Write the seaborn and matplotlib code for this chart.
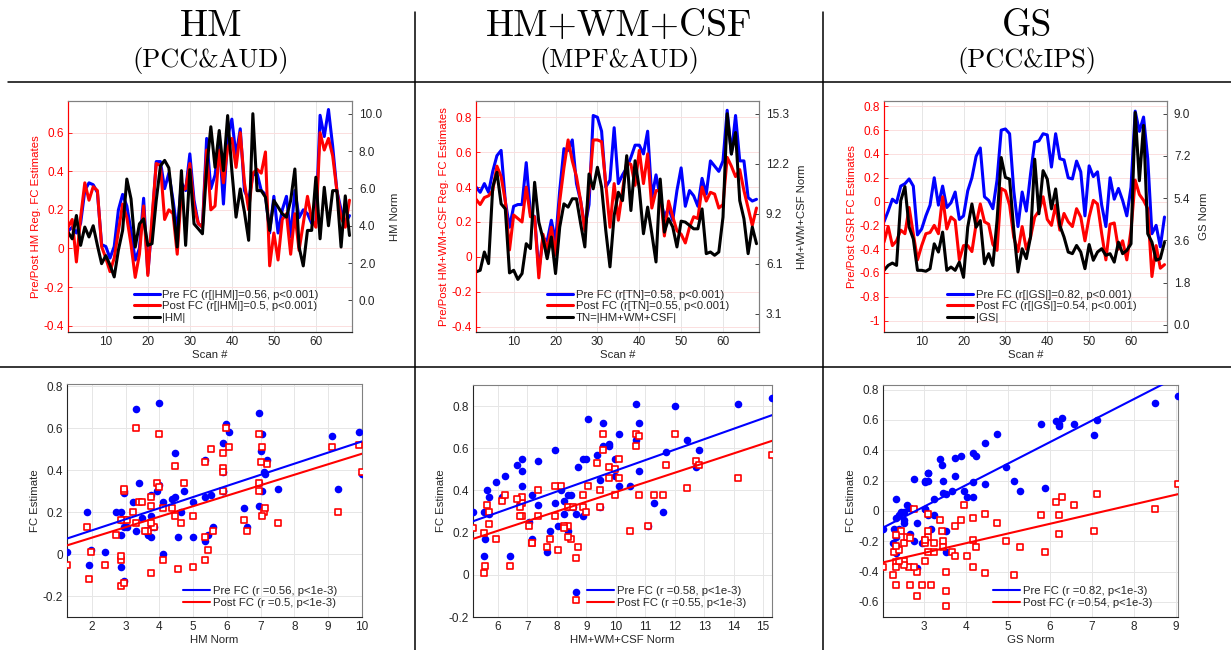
import numpy as np
import pandas as pd
import matplotlib
matplotlib.use("Agg")
import matplotlib.pyplot as plt
import seaborn as sns
from matplotlib.lines import Line2D
from matplotlib.ticker import FuncFormatter

# ---------------- data ----------------
scan = np.arange(1, 69)

hm_pre = [0.09, 0.11, 0.08, 0.13, 0.30, 0.34, 0.33, 0.29, 0.02, 0.01,
          -0.05, 0.01, 0.20, 0.28, 0.22, 0.09, -0.06, 0.00, 0.26, -0.13,
          0.13, 0.45, 0.45, 0.31, 0.39, 0.25, 0.09, 0.34, 0.30, 0.49,
          0.25, 0.13, 0.11, 0.57, 0.31, 0.38, 0.56, 0.23, 0.58, 0.67,
          0.48, 0.62, 0.30, 0.25, 0.38, 0.39, 0.30, 0.28, 0.08, 0.27,
          0.08, 0.20, 0.27, 0.06, 0.30, 0.16, 0.20, 0.18, 0.13, 0.13,
          0.69, 0.58, 0.72, 0.53, 0.30, 0.20, 0.13, 0.17]
hm_post = [0.11, 0.15, -0.07, 0.16, 0.34, 0.25, 0.32, 0.30, 0.01, -0.05,
           -0.12, -0.05, 0.09, 0.23, 0.16, 0.02, -0.15, -0.03, 0.22, -0.14,
           0.16, 0.44, 0.43, 0.15, 0.20, 0.18, -0.03, 0.30, 0.31, 0.44,
           0.22, 0.13, 0.11, 0.51, 0.20, 0.22, 0.51, 0.34, 0.52, 0.57,
           0.42, 0.60, 0.34, 0.20, 0.39, 0.41, 0.39, 0.50, -0.09, 0.08,
           -0.06, 0.15, 0.18, -0.03, 0.18, -0.01, 0.13, 0.27, 0.15, 0.11,
           0.60, 0.51, 0.57, 0.48, 0.30, 0.16, 0.11, 0.25]
hm_norm = [3.66, 3.30, 4.55, 2.95, 3.93, 3.40, 4.00, 2.95, 1.97, 2.40,
           1.90, 1.26, 2.70, 3.75, 6.50, 5.44, 2.86, 4.10, 4.37, 2.95,
           3.04, 5.35, 7.20, 7.50, 7.10, 5.00, 2.86, 6.95, 2.95, 7.00,
           4.10, 3.84, 3.57, 7.04, 9.30, 7.13, 9.10, 6.95, 9.90, 6.95,
           4.46, 5.97, 4.73, 3.22, 10.0, 5.88, 5.88, 5.53, 3.75, 5.35,
           5.00, 4.64, 4.46, 5.35, 7.04, 2.86, 1.85, 3.75, 3.75, 6.60,
           3.30, 6.06, 4.00, 5.88, 5.88, 2.86, 5.60, 3.48]

tn_pre = [0.40, 0.37, 0.42, 0.37, 0.49, 0.58, 0.61, 0.32, 0.17, 0.29,
          0.30, 0.30, 0.54, 0.25, 0.23, -0.08, 0.11, 0.09, 0.21, 0.09,
          0.38, 0.62, 0.61, 0.67, 0.42, 0.32, 0.17, 0.30, 0.81, 0.80,
          0.72, 0.40, 0.44, 0.74, 0.42, 0.47, 0.51, 0.57, 0.64, 0.64,
          0.59, 0.72, 0.34, 0.47, 0.34, 0.23, 0.28, 0.21, 0.38, 0.51,
          0.29, 0.38, 0.35, 0.29, 0.45, 0.36, 0.55, 0.52, 0.49, 0.55,
          0.84, 0.59, 0.81, 0.55, 0.55, 0.34, 0.32, 0.33]
tn_post = [0.33, 0.30, 0.34, 0.35, 0.38, 0.52, 0.46, 0.32, 0.04, 0.24,
           0.22, 0.20, 0.40, 0.23, 0.23, -0.12, 0.13, 0.04, 0.17, 0.01,
           0.32, 0.51, 0.67, 0.55, 0.46, 0.32, 0.15, 0.38, 0.67, 0.67,
           0.66, 0.42, 0.17, 0.42, 0.21, 0.38, 0.54, 0.53, 0.41, 0.61,
           0.42, 0.59, 0.28, 0.38, 0.38, 0.12, 0.32, 0.23, 0.15, 0.13,
           0.08, 0.17, 0.23, 0.22, 0.40, 0.32, 0.37, 0.36, 0.28, 0.30,
           0.57, 0.52, 0.46, 0.50, 0.38, 0.28, 0.18, 0.28]
tn_norm = [5.61, 5.71, 6.83, 6.12, 10.80, 11.71, 9.78, 9.47, 5.55, 5.71,
           5.15, 5.51, 7.34, 7.04, 11.10, 8.66, 7.65, 6.42, 7.75, 5.51,
           8.36, 9.78, 9.58, 10.09, 10.09, 8.56, 7.14, 11.61, 10.70, 12.02,
           10.80, 8.15, 5.92, 9.07, 10.49, 9.98, 12.73, 9.37, 12.42, 10.70,
           7.95, 9.58, 7.95, 6.22, 11.30, 8.05, 8.87, 8.36, 7.14, 8.72,
           8.66, 8.46, 8.25, 8.25, 9.47, 6.73, 6.83, 6.63, 6.83, 8.97,
           15.30, 12.83, 14.15, 9.98, 8.87, 6.73, 8.36, 7.34]

gs_pre = [-0.17, -0.08, 0.02, -0.01, 0.13, 0.15, 0.19, 0.13, -0.28, -0.23,
          -0.12, -0.03, 0.20, -0.03, 0.13, -0.05, -0.01, 0.08, -0.15, -0.12,
          0.09, 0.20, 0.38, 0.45, 0.04, 0.01, -0.06, 0.18, 0.60, 0.61,
          0.57, 0.09, -0.21, 0.08, -0.08, 0.23, 0.50, 0.51, 0.57, 0.56,
          0.29, 0.57, 0.36, 0.35, 0.20, 0.19, 0.34, 0.25, -0.12, 0.30,
          0.21, 0.25, -0.03, -0.21, 0.20, 0.02, 0.11, 0.01, -0.12, 0.12,
          0.76, 0.59, 0.71, 0.36, -0.27, -0.20, -0.38, -0.13]
gs_post = [-0.34, -0.21, -0.37, -0.33, -0.24, -0.27, -0.05, -0.27, -0.49, -0.37,
           -0.27, -0.26, -0.20, -0.27, 0.04, -0.23, -0.13, -0.16, -0.49, -0.37,
           -0.37, -0.42, -0.19, -0.02, -0.17, -0.19, -0.36, -0.41, 0.11, 0.09,
           -0.03, -0.30, -0.42, -0.21, -0.40, -0.30, -0.13, -0.08, 0.04, -0.15,
           -0.20, -0.03, -0.24, -0.10, -0.17, -0.21, -0.06, -0.13, -0.33, -0.13,
           0.01, -0.02, -0.27, -0.49, -0.19, -0.18, -0.40, -0.33, -0.49, -0.24,
           0.18, 0.06, 0.01, -0.06, -0.63, -0.37, -0.56, -0.53]
gs_norm = [2.32, 2.53, 2.63, 2.53, 5.29, 5.89, 4.16, 3.66, 2.32, 2.32,
           2.28, 2.39, 3.45, 3.10, 3.95, 2.32, 2.46, 2.32, 2.67, 2.02,
           4.16, 5.15, 4.16, 4.44, 2.60, 3.03, 2.53, 4.44, 7.13, 6.28,
           6.21, 4.02, 2.25, 3.24, 2.82, 3.74, 7.06, 4.73, 6.57, 6.21,
           4.94, 5.79, 4.23, 3.74, 3.10, 3.03, 3.38, 3.10, 2.39, 3.42,
           2.75, 3.10, 3.24, 2.96, 3.03, 2.67, 3.52, 3.03, 3.17, 3.45,
           9.05, 6.14, 8.50, 3.88, 3.52, 2.75, 2.82, 3.52]

titles = ["HM", "HM+WM+CSF", "GS"]
subtitles = ["(PCC&AUD)", "(MPF&AUD)", "(PCC&IPS)"]

top_left_labels = ["Pre/Post HM Reg. FC Estimates",
                   "Pre/Post HM+WM+CSF Reg. FC Estimates",
                   "Pre/Post GSR FC Estimates"]
top_right_labels = ["HM Norm", "HM+WM+CSF Norm", "GS Norm"]
top_legends = [
    ["Pre FC (r[|HM|]=0.56, p<0.001)", "Post FC (r[|HM|]=0.5, p<0.001)", "|HM|"],
    ["Pre FC (r[TN]=0.58, p<0.001)", "Post FC (r[TN]=0.55, p<0.001)", "TN=|HM+WM+CSF|"],
    ["Pre FC (r[|GS|]=0.82, p<0.001)", "Post FC (r[|GS|]=0.54, p<0.001)", "|GS|"],
]
left_ticks = [[-0.4, -0.2, 0, 0.2, 0.4, 0.6],
              [-0.4, -0.2, 0, 0.2, 0.4, 0.6, 0.8],
              [-1, -0.8, -0.6, -0.4, -0.2, 0, 0.2, 0.4, 0.6, 0.8]]
right_ticks = [[0, 2, 4, 6, 8, 10],
               [0, 3.06, 6.12, 9.18, 12.24, 15.3],
               [0, 1.8, 3.6, 5.4, 7.2, 9.0]]
scan_ticks = [10, 20, 30, 40, 50, 60]

bottom_xlabels = ["HM Norm", "HM+WM+CSF Norm", "GS Norm"]
bottom_legends = [
    ["Pre FC (r =0.56, p<1e-3)", "Post FC (r =0.5, p<1e-3)"],
    ["Pre FC (r =0.58, p<1e-3)", "Post FC (r =0.55, p<1e-3)"],
    ["Pre FC (r =0.82, p<1e-3)", "Post FC (r =0.54, p<1e-3)"],
]
bottom_xticks = [[2, 3, 4, 5, 6, 7, 8, 9, 10],
                 [6, 7, 8, 9, 10, 11, 12, 13, 14, 15],
                 [3, 4, 5, 6, 7, 8, 9]]
bottom_yticks = [[-0.2, 0, 0.2, 0.4, 0.6, 0.8],
                 [-0.2, 0, 0.2, 0.4, 0.6, 0.8],
                 [-0.6, -0.4, -0.2, 0, 0.2, 0.4, 0.6, 0.8]]

# ---------------- layout / style ----------------
W, H = 1231, 650
top_boxes = [(68, 101, 352, 332), (476, 101, 759, 332), (884, 101, 1167, 332)]
top_lylim = [(-0.433, 0.764), (-0.43, 0.893), (-1.096, 0.845)]
top_rylim = [(-1.69, 10.68), (1.93, 16.08), (-0.31, 9.54)]
top_leg_anchor = [(0.232, 0.04), (0.251, 0.04), (0.223, 0.04)]

bot_boxes = [(67, 384, 362, 617), (473, 385, 772, 617), (883, 385, 1178, 617)]
bot_ylim = [(-0.3, 0.81), (-0.2, 0.9), (-0.7, 0.83)]
bot_leg_anchor = [(0.393, 0.04), (0.381, 0.04), (0.373, 0.04)]

sns.set_style("white")
plt.rcParams["font.family"] = ["Liberation Sans", "DejaVu Sans"]
plt.rcParams["axes.unicode_minus"] = False

DARK = "#262626"
GRID = "#e6e6e6"
PINK = "#fbdede"

fig = plt.figure(figsize=(W / 100, H / 100), dpi=100)


def rect(l, t, r, b):
    return [l / W, 1 - b / H, (r - l) / W, (b - t) / H]


gfmt = FuncFormatter(lambda v, p: f"{round(v, 6) + 0.0:g}")

pres = [hm_pre, tn_pre, gs_pre]
posts = [hm_post, tn_post, gs_post]
norms = [hm_norm, tn_norm, gs_norm]

for k in range(3):
    # ---------- top time-series panel ----------
    df = pd.DataFrame({"scan": scan, "pre": pres[k], "post": posts[k], "norm": norms[k]})
    ax = fig.add_axes(rect(*top_boxes[k]))
    ax2 = ax.twinx()
    sns.lineplot(data=df, x="scan", y="pre", ax=ax, color="blue", lw=2.2, legend=False)
    sns.lineplot(data=df, x="scan", y="post", ax=ax, color="red", lw=2.2, legend=False)
    sns.lineplot(data=df, x="scan", y="norm", ax=ax2, color="black", lw=2.2, legend=False)
    ax.set_xticks(scan_ticks)
    ax.set_yticks(left_ticks[k])
    ax.yaxis.set_major_formatter(gfmt)
    ax2.set_yticks(right_ticks[k])
    ax2.set_yticklabels([f"{v:.1f}" for v in right_ticks[k]])
    ax.set_xlim(1, 68.6)
    ax.set_ylim(*top_lylim[k])
    ax2.set_ylim(*top_rylim[k])
    ax.yaxis.grid(True, color=PINK, lw=0.7)
    ax.xaxis.grid(True, color=GRID, lw=0.7)
    ax.set_axisbelow(True)
    ax.set_xlabel("Scan #", fontsize=8.2, color=DARK, labelpad=1)
    ax.set_ylabel(top_left_labels[k], fontsize=8.2, color="red", labelpad=2)
    ax2.set_ylabel(top_right_labels[k], fontsize=8.2, color=DARK, labelpad=6)
    ax.tick_params(axis="x", colors=DARK, labelsize=8.5, direction="in", length=3, width=0.6, pad=3)
    ax.tick_params(axis="y", colors="red", labelcolor="red", labelsize=8.5, direction="in",
                   length=3, width=0.6, pad=3)
    ax2.tick_params(axis="y", colors=DARK, labelsize=8.5, direction="in", length=3, width=0.6, pad=5)
    for a in (ax, ax2):
        for s in a.spines.values():
            s.set_linewidth(0.8)
            s.set_color("#808080")
        a.spines["left"].set_color("red")
        a.spines["bottom"].set_color(DARK)
        a.spines["right"].set_color("#808080")
    handles = [Line2D([0], [0], color="blue", lw=2.2),
               Line2D([0], [0], color="red", lw=2.2),
               Line2D([0], [0], color="black", lw=2.2)]
    ax2.legend(handles, top_legends[k], loc="lower left", bbox_to_anchor=top_leg_anchor[k],
               frameon=False, fontsize=8.2, handlelength=2.3, handletextpad=0.2,
               labelspacing=0.12, borderpad=0, borderaxespad=0)

    # ---------- bottom scatter panel ----------
    bx = fig.add_axes(rect(*bot_boxes[k]))
    sns.scatterplot(data=df, x="norm", y="pre", ax=bx, color="blue", s=30, linewidth=0,
                    zorder=3, legend=False)
    sns.scatterplot(data=df, x="norm", y="post", ax=bx, marker="s", facecolor="white",
                    edgecolor="red", s=20, linewidth=1.2, zorder=4, legend=False)
    sns.regplot(data=df, x="norm", y="pre", ax=bx, scatter=False, ci=None, color="blue",
                line_kws=dict(lw=1.5, zorder=5))
    sns.regplot(data=df, x="norm", y="post", ax=bx, scatter=False, ci=None, color="red",
                line_kws=dict(lw=1.5, zorder=5))
    bx.set_xticks(bottom_xticks[k])
    bx.set_yticks(bottom_yticks[k])
    bx.xaxis.set_major_formatter(gfmt)
    bx.yaxis.set_major_formatter(gfmt)
    bx.set_xlim(min(norms[k]), max(norms[k]))
    bx.set_ylim(*bot_ylim[k])
    bx.grid(True, color=GRID, lw=0.7)
    bx.set_axisbelow(True)
    bx.set_xlabel(bottom_xlabels[k], fontsize=8.2, color=DARK, labelpad=1)
    bx.set_ylabel("FC Estimate", fontsize=8.2, color=DARK, labelpad=2)
    bx.tick_params(colors=DARK, labelsize=8.5, direction="in", length=3, width=0.6, pad=3)
    for s in bx.spines.values():
        s.set_linewidth(0.8)
        s.set_color("#808080")
    bx.spines["left"].set_color(DARK)
    bx.spines["bottom"].set_color(DARK)
    bh = [Line2D([0], [0], color="blue", lw=1.5), Line2D([0], [0], color="red", lw=1.5)]
    bx.legend(bh, bottom_legends[k], loc="lower left", bbox_to_anchor=bot_leg_anchor[k],
              frameon=False, fontsize=8.2, handlelength=2.4, handletextpad=0.25,
              labelspacing=0.15, borderpad=0, borderaxespad=0)

    # ---------- column headings ----------
    cx = [211, 619, 1027][k] / W
    fig.text(cx, 1 - 26 / H, titles[k], ha="center", va="center", fontsize=27,
             family=["cmr10", "DejaVu Serif"], color="black")
    fig.text(cx, 1 - 60 / H, subtitles[k], ha="center", va="center", fontsize=19,
             family=["cmr10", "DejaVu Serif"], color="black")

# ---------------- separators ----------------
for (x0, y0, x1, y1) in [(8, 82, 1231, 82), (0, 367, 1231, 367),
                         (415, 12, 415, 650), (823, 12, 823, 650)]:
    fig.add_artist(Line2D([x0 / W, x1 / W], [1 - y0 / H, 1 - y1 / H], color="black",
                          lw=1.1, transform=fig.transFigure))

fig.savefig("out.png", dpi=100)
